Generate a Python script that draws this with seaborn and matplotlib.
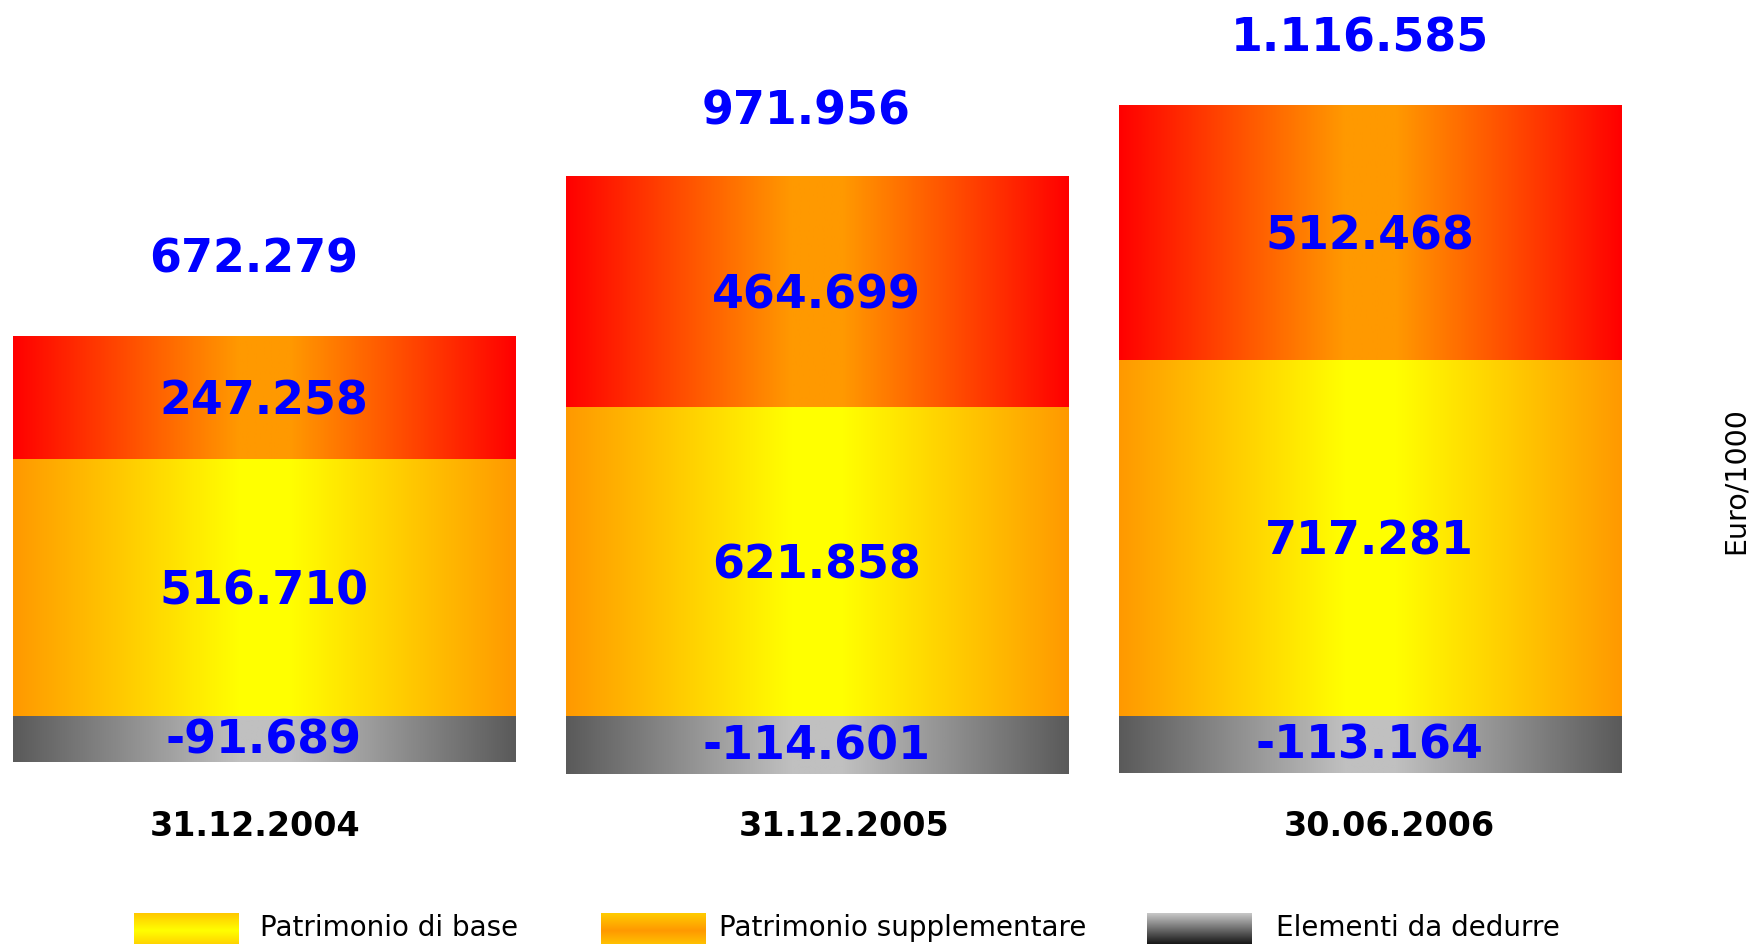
import numpy as np
import pandas as pd
import matplotlib
matplotlib.use("Agg")
import matplotlib.pyplot as plt
import matplotlib.transforms as mtransforms
from matplotlib.colors import LinearSegmentedColormap
import seaborn as sns

# Capital components, Euro/1000
date = ["31.12.2004", "31.12.2005", "30.06.2006"]
patrimonio_base = [516710, 621858, 717281]
patrimonio_supplementare = [247258, 464699, 512468]
elementi_da_dedurre = [-91689, -114601, -113164]
totale = [672279, 971956, 1116585]

legend_labels = ["Patrimonio di base", "Patrimonio supplementare", "Elementi da dedurre"]


def fmt(v):
    return f"{v:,}".replace(",", ".")


sns.set_theme(style="white")
plt.rcParams["font.family"] = ["DejaVu Sans"]

W, H = 1753, 944
fig = plt.figure(figsize=(W / 100, H / 100), dpi=100)
ax = fig.add_axes([0, 0, 1, 1])

df = pd.DataFrame({
    "data": date,
    "base": patrimonio_base,
    "supp": patrimonio_supplementare,
    "ded": elementi_da_dedurre,
})
df["positivo"] = df["base"] + df["supp"]

BAR_W = 0.908


# Horizontal edge -> centre -> edge gradients for each layer
def h_cmap(edge, centre):
    return LinearSegmentedColormap.from_list("g", [edge, centre])


layers = [
    ("positivo", h_cmap("#FF0000", "#FF9900"), 1),
    ("base", h_cmap("#FF9900", "#FFFF00"), 2),
    ("ded", h_cmap("#5A5A5A", "#C0C0C0"), 3),
]

xs = np.linspace(0, 1, 600)
# linear ramp from each edge with a short flat band in the middle
tri = np.clip((1 - np.abs(2 * xs - 1)) / 0.9, 0, 1)[None, :]

for col, cmap, z in layers:
    n0 = len(ax.patches)
    sns.barplot(data=df, x="data", y=col, order=date, width=BAR_W,
                errorbar=None, color="white", linewidth=0, ax=ax, zorder=z)
    for p in ax.patches[n0:]:
        x0, y0 = p.get_x(), p.get_y()
        x1, y1 = x0 + p.get_width(), y0 + p.get_height()
        ax.imshow(tri, extent=[x0, x1, min(y0, y1), max(y0, y1)], aspect="auto",
                  cmap=cmap, vmin=0, vmax=1, interpolation="bilinear",
                  zorder=z + 0.5)

ax.set_xlim(-0.477, 2.693)
ax.set_ylim(-456900, 1440600)
ax.axis("off")

blue = "#0000FF"
num_kw = dict(color=blue, fontsize=33, fontweight="bold", ha="center",
              va="center", zorder=10, textcoords="offset points")

total_dx = [-7, -8, -7]
total_dy = [55, 46, 47.5]
for i in range(len(date)):
    b, s, d = patrimonio_base[i], patrimonio_supplementare[i], elementi_da_dedurre[i]
    ax.annotate(fmt(b), xy=(i, b / 2), xytext=(0, -3), **num_kw)
    ax.annotate(fmt(s), xy=(i, b + s / 2), xytext=(0, -3), **num_kw)
    ax.annotate(fmt(d), xy=(i, d / 2), xytext=(0, -1), **num_kw)
    # totals above each stack
    ax.annotate(fmt(totale[i]), xy=(i, b + s), xytext=(total_dx[i], total_dy[i]),
                **num_kw)

# Category labels under the bars
trans = mtransforms.blended_transform_factory(ax.transData, ax.transAxes)
label_dx = [-0.016, 0.049, 0.036]
for i, lab in enumerate(date):
    ax.text(i + label_dx[i], 1 - 826 / H, lab, transform=trans, ha="center",
            va="center", fontsize=24, fontweight="bold", color="black")

# Axis unit on the right
ax.text(1736 / W, 1 - 481 / H, "Euro/1000", transform=ax.transAxes,
        rotation=90, ha="center", va="center", fontsize=20.5, color="black")

# Legend with gradient swatches
swatch_maps = [
    LinearSegmentedColormap.from_list("l1", ["#FFC800", "#FFFF00", "#FFC800"]),
    LinearSegmentedColormap.from_list("l2", ["#FFCC00", "#FF9900", "#FFCC00"]),
    LinearSegmentedColormap.from_list("l3", ["#C8C8C8", "#000000"]),
]
swatch_x = [134, 601, 1147]
text_x = [260, 719, 1276]
sw_w, sw_top, sw_bot = 105, 913, 948
vgrad = np.linspace(0, 1, 200)[:, None]
for k in range(3):
    sax = fig.add_axes([swatch_x[k] / W, 1 - sw_bot / H, sw_w / W, (sw_bot - sw_top) / H])
    sax.imshow(vgrad, aspect="auto", cmap=swatch_maps[k], interpolation="bilinear")
    sax.axis("off")
    fig.text(text_x[k] / W, 1 - 928 / H, legend_labels[k], ha="left", va="center",
             fontsize=20, color="black")

fig.savefig("out.png", dpi=100)
